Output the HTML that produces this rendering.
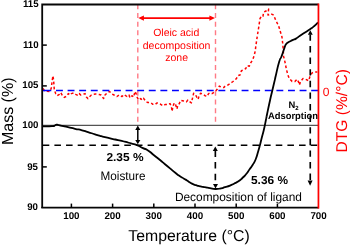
<!DOCTYPE html>
<html><head><meta charset="utf-8">
<style>
html,body{margin:0;padding:0;background:#fff;}
body{width:350px;height:245px;overflow:hidden;}
svg{display:block;will-change:transform;}
text{font-family:"Liberation Sans",sans-serif;text-rendering:geometricPrecision;}
.b{font-weight:bold;}
</style></head><body>
<svg width="350" height="245" viewBox="0 0 350 245">
<rect width="350" height="245" fill="#fff"/>
<g stroke="#ff7a85" stroke-width="1.4" stroke-dasharray="5 3.65" fill="none">
<line x1="137.8" y1="4.35" x2="137.8" y2="123.5"/>
<line x1="215.5" y1="4.35" x2="215.5" y2="123.5"/>
</g>
<line x1="42.5" y1="125.3" x2="318" y2="125.3" stroke="#000" stroke-width="0.85"/>
<line x1="42.75" y1="145.3" x2="317.3" y2="145.3" stroke="#000" stroke-width="1.6" stroke-dasharray="6.55 5.1"/>
<polyline fill="none" stroke="#f00" stroke-width="1.5" stroke-dasharray="2.7 2.3" stroke-linejoin="round" points="43,88.5 44.2,90.5 47,91.2 50,91.5 51.3,88 52,82 52.9,75.9 53.6,80 54,85.7 54.3,90 55.7,93.6 57.1,95.7 59.3,94.3 60.7,92.6 62.9,96.4 64.3,97.4 66.4,96.4 68.3,93.6 70,95 71.4,93.6 73.6,92.9 75.7,94.3 77.9,95.4 79.3,93.6 80.7,95 82.9,94.3 85,93.6 86.4,96.9 87.9,98.6 89.3,96.9 91.4,95 93.6,94.3 95.7,94 99.3,94.6 101,95 103.6,98.5 105,95 107,93 109.5,91.5 112,94 114,95 117,96.5 119,95 122,96.5 124,94.5 127,96.5 129,95 130,97.9 132.1,95.7 133.6,97.1 135,91.4 136.4,94.3 137.1,97.1 138.6,100 140.7,98.6 142.1,100 143.6,98.3 145.7,101.4 147.9,102.6 150.7,102.6 152.9,104.3 155,104.6 157.1,102.9 158.6,103.6 160.7,104.3 162.9,105.7 165,104.6 167.9,104.6 170,103.6 171.4,106.4 172.1,111.4 172.9,106.4 174.3,102.9 175.7,105 176.9,109 177.9,105 179.3,103.6 180.7,100.4 183.6,101 186.4,101.9 187.9,100 189.3,101.4 191.4,102.9 192.9,96.4 193.6,93.3 195.7,95 197.1,97.9 198.1,99.3 199.3,95 200.7,93.3 202.9,94.3 205,95.7 207.1,96.4 208.6,93.6 210,92.9 212.1,93.6 214.3,92.1 215.7,91 217.1,89.3 219.3,86.1 221.4,87.1 223.6,87.6 225,86.4 228,85 230,83.5 233,81.5 236.4,78.6 237.9,75.7 240,75 241.4,70.7 243.6,70 245.7,68.6 247.1,65.7 249.3,66.2 250.7,62.9 252.9,59.3 254.3,55 255.3,50.7 255.7,47.1 257.1,37.3 258.6,28 260,18.7 261.5,16 263,16.2 263.6,12.3 266,11 268.6,9 268,15.1 270.7,13.7 273.6,15.1 275.7,20.1 278.6,25.9 280.3,31.5 281.9,36.6 282.9,45 283.6,56.4 285,62.1 286.4,69.3 287.9,75 289.3,78.6 292.1,81.4 295,81.4 297.1,79.3 298.6,82.1 299.3,85 300.7,81.4 302.9,78.6 305.7,79.3 308.6,80.7 310,76.4 312.1,72.9 314.3,72.1 317.3,72"/>
<line x1="44.4" y1="90.5" x2="318" y2="90.5" stroke="#00f" stroke-width="1.7" stroke-dasharray="6.9 4.7"/>
<line x1="43" y1="90.5" x2="45" y2="90.5" stroke="#00f" stroke-width="1.7"/>
<path fill="none" stroke="#000" stroke-width="1.8" stroke-linejoin="round" d="M42.8,126.4 C45.87,126.33 48.10,126.47 52,126.2 C55.90,125.93 52.97,126.13 54.5,125.6 C56.03,125.07 55.10,124.77 56.6,124.6 C58.10,124.43 57.20,124.67 59,125.1 C60.80,125.53 59.00,125.20 62,125.9 C65.00,126.60 63.67,126.23 68,127.2 C72.33,128.17 70.33,127.77 75,128.8 C79.67,129.83 77.67,129.20 82,130.3 C86.33,131.40 83.67,130.77 88,132.1 C92.33,133.43 91.00,133.07 95,134.3 C99.00,135.53 96.67,134.87 100,135.8 C103.33,136.73 101.00,136.10 105,137.1 C109.00,138.10 107.67,137.80 112,138.8 C116.33,139.80 114.00,139.20 118,140.1 C122.00,141.00 119.67,140.40 124,141.5 C128.33,142.60 126.67,142.17 131,143.4 C135.33,144.63 133.00,143.63 137,145.2 C141.00,146.77 139.33,146.37 143,148.1 C146.67,149.83 144.33,148.03 148,150.4 C151.67,152.77 150.00,152.00 154,155.2 C158.00,158.40 156.33,157.00 160,160 C163.67,163.00 161.67,161.40 165,164.2 C168.33,167.00 166.57,165.53 170,168.4 C173.43,171.27 171.97,170.17 175.3,172.8 C178.63,175.43 177.10,174.33 180,176.3 C182.90,178.27 181.67,177.30 184,178.7 C186.33,180.10 185.00,179.27 187,180.5 C189.00,181.73 188.00,181.20 190,182.4 C192.00,183.60 191.00,183.17 193,184.1 C195.00,185.03 194.00,184.53 196,185.2 C198.00,185.87 196.67,185.53 199,186.1 C201.33,186.67 200.67,186.47 203,186.9 C205.33,187.33 203.67,186.97 206,187.4 C208.33,187.83 206.83,187.67 210,188.2 C213.17,188.73 211.83,188.97 215.5,189 C219.17,189.03 217.83,188.90 221,188.3 C224.17,187.70 222.00,188.10 225,187.2 C228.00,186.30 227.00,186.77 230,185.6 C233.00,184.43 231.33,185.03 234,183.7 C236.67,182.37 235.20,183.50 238,181.6 C240.80,179.70 239.73,180.47 242.4,178 C245.07,175.53 243.60,177.10 246,174.2 C248.40,171.30 247.40,172.37 249.6,169.3 C251.80,166.23 250.60,168.27 252.6,165 C254.60,161.73 253.80,163.83 255.6,159.5 C257.40,155.17 256.57,156.73 258,152 C259.43,147.27 258.67,149.97 259.9,145.3 C261.13,140.63 260.40,143.10 261.7,138 C263.00,132.90 262.40,136.00 263.8,130 C265.20,124.00 264.80,125.33 265.9,120 C267.00,114.67 265.70,120.67 267.1,114 C268.50,107.33 268.40,107.67 270.1,100 C271.80,92.33 270.60,97.80 272.2,91 C273.80,84.20 273.73,84.60 274.9,79.6 C276.07,74.60 274.30,81.87 275.7,76 C277.10,70.13 277.23,68.33 279.1,62 C280.97,55.67 279.97,60.33 281.3,57 C282.63,53.67 282.00,55.17 283.1,52 C284.20,48.83 283.63,50.07 284.6,47.5 C285.57,44.93 284.87,45.97 286,44.3 C287.13,42.63 286.57,43.53 288,42.5 C289.43,41.47 288.63,42.07 290.3,41.2 C291.97,40.33 291.10,40.77 293,39.9 C294.90,39.03 293.67,39.97 296,38.6 C298.33,37.23 297.00,37.83 300,35.8 C303.00,33.77 301.67,34.70 305,32.5 C308.33,30.30 306.90,31.37 310,29.2 C313.10,27.03 311.63,28.23 314.3,26 C316.97,23.77 316.77,23.67 318,22.5"/>
<path d="M42.2,208 V4.5 H318.6" fill="none" stroke="#060606" stroke-width="1.8"/>
<line x1="41.3" y1="207.7" x2="318.6" y2="207.7" stroke="#060606" stroke-width="1.7"/>
<line x1="318.45" y1="3.5" x2="318.45" y2="208.6" stroke="#f00" stroke-width="1.75"/>
<g stroke="#000" stroke-width="1.5">
<line x1="42.5" y1="45.1" x2="46.8" y2="45.1"/>
<line x1="42.5" y1="85.9" x2="46.8" y2="85.9"/>
<line x1="42.5" y1="166.9" x2="46.8" y2="166.9"/>
<line x1="71.4" y1="207.5" x2="71.4" y2="203.6"/>
<line x1="112.6" y1="207.5" x2="112.6" y2="203.6"/>
<line x1="153.8" y1="207.5" x2="153.8" y2="203.6"/>
<line x1="195.0" y1="207.5" x2="195.0" y2="203.6"/>
<line x1="236.2" y1="207.5" x2="236.2" y2="203.6"/>
<line x1="277.4" y1="207.5" x2="277.4" y2="203.6"/>
</g>
<g stroke="#f00" fill="#f00">
<line x1="142" y1="18.1" x2="211" y2="18.1" stroke-width="1.8"/>
<path d="M138.3,18.1 l5.6,-2.7 v5.4z M215,18.1 l-5.6,-2.7 v5.4z" stroke="none"/>
</g>
<g stroke="#000" fill="#000">
<line x1="137.8" y1="129" x2="137.8" y2="141" stroke-width="1.5"/>
<path d="M137.8,125.6 l-2.55,4.4 h5.1z M137.8,144.2 l-2.55,-4.2 h5.1z" stroke="none"/>
<line x1="215.35" y1="150.5" x2="215.35" y2="181" stroke-width="1.65" stroke-dasharray="6.5 5.1"/>
<path d="M215.3,146.6 l-2.5,4.3 h5z M215.5,188.5 l-2.5,-4.6 h5z" stroke="none"/>
<line x1="310.25" y1="34.4" x2="310.25" y2="180.2" stroke-width="1.65" stroke-dasharray="6.4 5.2"/>
<path d="M310.3,30.2 l-2.45,4.6 h4.9z M310.1,185.8 l-2.5,-5.4 h5z" stroke="none"/>
</g>
<g class="b" font-size="9.7" text-anchor="end" fill="#000">
<text x="38.6" y="7.1">115</text>
<text x="38.6" y="48.0">110</text>
<text x="38.5" y="88.1">105</text>
<text x="38.5" y="128.4">100</text>
<text x="38" y="169.5">95</text>
<text x="38" y="209.5">90</text>
</g>
<g class="b" font-size="9.8" text-anchor="middle" fill="#000">
<text x="71.4" y="219.4">100</text>
<text x="112.6" y="219.4">200</text>
<text x="153.8" y="219.4">300</text>
<text x="195.0" y="219.4">400</text>
<text x="236.2" y="219.4">500</text>
<text x="277.4" y="219.4">600</text>
<text x="318.6" y="219.4">700</text>
</g>
<text x="326.2" y="95.7" font-size="12" fill="#f00" text-anchor="middle">0</text>
<text x="189" y="241.2" font-size="15.8" text-anchor="middle">Temperature (°C)</text>
<text transform="translate(12.6,111.3) rotate(-90)" font-size="16" text-anchor="middle">Mass (%)</text>
<text transform="translate(346.6,110.8) rotate(-90)" font-size="15.6" text-anchor="middle" fill="#f00">DTG (%/°C)</text>
<g font-size="10.5" fill="#f00" text-anchor="middle">
<text x="176.2" y="36.3">Oleic acid</text>
<text x="176.6" y="48.7">decomposition</text>
<text x="176.6" y="61.4">zone</text>
</g>
<text class="b" x="125" y="161.2" font-size="11.5" text-anchor="middle" textLength="37.2" lengthAdjust="spacingAndGlyphs">2.35 %</text>
<text x="123" y="179.5" font-size="12.3" text-anchor="middle" textLength="45" lengthAdjust="spacingAndGlyphs">Moisture</text>
<text class="b" x="269.5" y="184.2" font-size="11.5" text-anchor="middle" textLength="37" lengthAdjust="spacingAndGlyphs">5.36 %</text>
<text x="238.4" y="200.8" font-size="12" text-anchor="middle" textLength="127" lengthAdjust="spacingAndGlyphs">Decomposition of ligand</text>
<text class="b" x="293.5" y="108.2" font-size="9.4" text-anchor="middle">N<tspan font-size="6" dy="1.8">2</tspan></text>
<text class="b" x="293" y="119" font-size="9.6" text-anchor="middle" textLength="50" lengthAdjust="spacingAndGlyphs">Adsorption</text>
</svg>
</body></html>
